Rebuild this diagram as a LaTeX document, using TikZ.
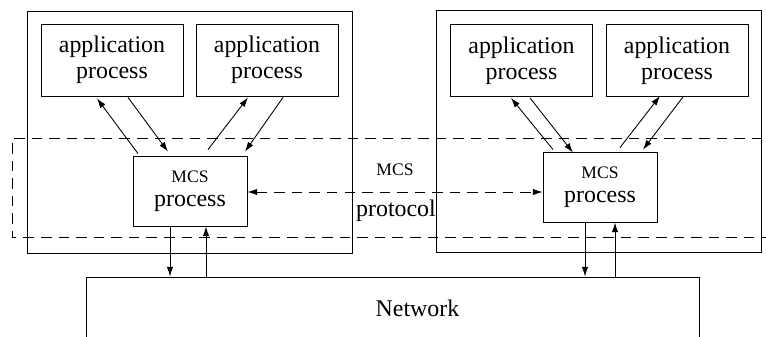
\documentclass[tikz,border=0pt]{standalone}
\usepackage{fontspec}
\setmainfont{Liberation Serif}
\usetikzlibrary{arrows.meta,calc}
\begin{document}
\begin{tikzpicture}[x=0.02cm,y=-0.02cm, line width=0.5pt,
		>={Latex[length=5.5pt,width=3.6pt]},
		hop/.style={draw, align=center, inner sep=0pt},
		appbox/.style={hop, minimum width=2.84cm, minimum height=1.44cm, font=\fontsize{13.6}{14.7}\selectfont},
		mcsbox/.style={hop, minimum width=2.28cm, minimum height=1.4cm, font=\fontsize{13.6}{14.7}\selectfont},
		hostbox/.style={draw, minimum width=6.5cm, minimum height=4.84cm}]
		\clip (0,0) rectangle (766,336); % khung anh
		% Hai may tram
		\node[hostbox] (hostL) at (189.5,132) {};
		\node[hostbox] (hostR) at (599,131.5) {};
		% Cac tien trinh ung dung
		\node[appbox] (app1) at (112,60) {application\\process};
		\node[appbox] (app2) at (267,60) {application\\process};
		\node[appbox] (app3) at (521.5,60.5) {application\\process};
		\node[appbox] (app4) at (677,60.5) {application\\process};
		% Tien trinh MCS
		\node[mcsbox] (mcsL) at (190,191) {{\fontsize{10}{12}\selectfont MCS}\\[-1pt]process};
		\node[mcsbox] (mcsR) at (600,187) {{\fontsize{10}{12}\selectfont MCS}\\[-1pt]process};
		% Mang
		\node[draw, minimum width=12.26cm, minimum height=1.24cm,
			label={[xshift=0.5cm,font=\fontsize{13.6}{14.7}\selectfont]center:Network}] (net) at (392.5,308) {};
		% Vung giao thuc MCS (net dut)
		\draw[dashed, dash pattern=on 6pt off 4pt] (780,138) -- (12,138) -- (12,237) -- (780,237);
		% Mui ten ben trai
		\draw[->] ($(mcsL.north)+(-52,-2)$) -- ($(app1.south)+(-15,2)$);
		\draw[->] ($(app1.south)+(16,1)$) -- ($(mcsL.north)+(-22,-4)$);
		\draw[->] ($(mcsL.north)+(18,-6)$) -- ($(app2.south)+(-19,1)$);
		\draw[->] ($(app2.south)+(16,1)$) -- ($(mcsL.north)+(55,-4)$);
		% Mui ten ben phai
		\draw[->] ($(mcsR.north)+(-47,-2)$) -- ($(app3.south)+(-10.5,1)$);
		\draw[->] ($(app3.south)+(8.5,1)$) -- ($(mcsR.north)+(-27,1)$);
		\draw[->] ($(mcsR.north)+(20,-4)$) -- ($(app4.south)+(-17,-1)$);
		\draw[->] ($(app4.south)+(6,0)$) -- ($(mcsR.north)+(43,-2)$);
		% Xuong mang va len
		\draw[->] ($(mcsL.south)+(-20,0)$) coordinate (dL) -- (dL |- net.north);
		\draw[<-] ($(mcsL.south)+(16,0)$) coordinate (uL) -- (uL |- net.north);
		\draw[->] ($(mcsR.south)+(-15,0)$) coordinate (dR) -- (dR |- net.north);
		\draw[<-] ($(mcsR.south)+(15,0)$) coordinate (uR) -- (uR |- net.north);
		% Giao thuc MCS
		\draw[<->, dashed, dash pattern=on 6pt off 4pt] ($(mcsL.east)+(0,1)$) coordinate (pL) -- (pL -| mcsR.west);
		\node[font=\fontsize{10}{12}\selectfont] (lbl1) at (395,170) {MCS};
		\node[font=\fontsize{13.6}{14.7}\selectfont] (lbl2) at (396,211) {protocol};
	\end{tikzpicture}
\end{document}
